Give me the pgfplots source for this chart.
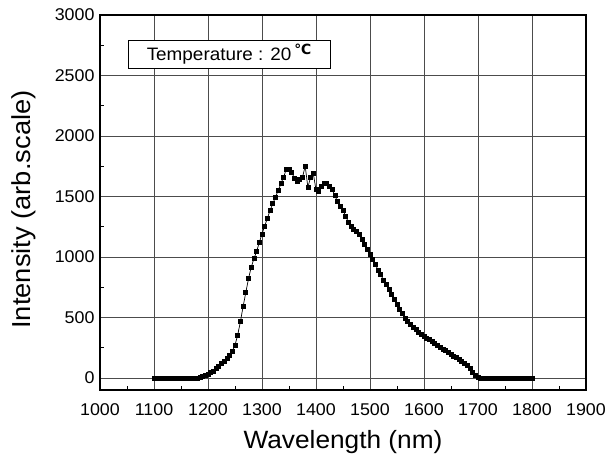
\documentclass[border=0pt]{standalone}
\usepackage{pgfplots}
\pgfplotsset{compat=1.18}
\usepackage{fontspec}
\setmainfont[FakeStretch=1.05]{Liberation Sans}
\newfontfamily\symfont{DejaVu Sans}

\pgfplotstableread{
lambda I
1100 0
1105 0
1110 0
1115 0
1120 0
1125 0
1130 0
1135 0
1140 0
1145 0
1150 0
1155 0
1160 0
1165 0
1170 0
1175 0
1180 0
1185 5
1190 12
1195 20
1200 30
1205 42
1210 58
1215 75
1220 98
1225 120
1230 140
1235 162
1240 190
1245 220
1250 270
1255 355
1260 465
1265 590
1270 705
1275 820
1280 915
1285 985
1290 1045
1295 1120
1300 1190
1305 1255
1310 1320
1315 1385
1320 1440
1325 1495
1330 1550
1335 1605
1340 1660
1345 1725
1350 1720
1355 1700
1360 1650
1365 1625
1370 1645
1375 1660
1380 1750
1385 1575
1390 1660
1395 1690
1400 1555
1405 1545
1410 1580
1415 1605
1420 1605
1425 1585
1430 1555
1435 1505
1440 1460
1445 1420
1450 1385
1455 1335
1460 1290
1465 1255
1470 1232
1475 1212
1480 1185
1485 1145
1490 1102
1495 1060
1500 1020
1505 977
1510 935
1515 893
1520 852
1525 810
1530 770
1535 730
1540 690
1545 650
1550 610
1555 570
1560 530
1565 495
1570 465
1575 440
1580 418
1585 398
1590 380
1595 362
1600 345
1605 330
1610 315
1615 300
1620 285
1625 270
1630 255
1635 240
1640 225
1645 210
1650 195
1655 182
1660 168
1665 155
1670 140
1675 122
1680 100
1685 75
1690 48
1695 25
1700 8
1705 0
1710 0
1715 0
1720 0
1725 0
1730 0
1735 0
1740 0
1745 0
1750 0
1755 0
1760 0
1765 0
1770 0
1775 0
1780 0
1785 0
1790 0
1795 0
1800 0
}\spectrum

\begin{document}
\begin{tikzpicture}
\path[use as bounding box] (0,0) rectangle (608pt,457pt);
\begin{axis}[
    at={(100pt,67pt)}, anchor=south west,
    width=486pt, height=375pt, scale only axis,
    xmin=1000, xmax=1900,
    ymin=-100, ymax=3000,
    xtick={1000,1100,...,1900},
    ytick={0,500,...,3000},
    minor x tick num=1, minor y tick num=1,
    xtick pos=bottom, ytick pos=left,
    tick align=inside,
    major tick length=0pt, minor tick length=4pt,
    grid=major,
    major grid style={black!70, line width=0.5pt},
    axis line style={black, line width=1.1pt},
    every tick/.style={black, line width=0.8pt},
    /pgf/number format/assume math mode=true,
    /pgf/number format/1000 sep={},
    tick label style={font=\fontsize{17}{17}\selectfont},
    xticklabel style={yshift=-10pt},
    yticklabel style={xshift=-2pt},
    xlabel={Wavelength (nm)},
    ylabel={Intensity (arb.scale)},
    xlabel style={font=\fontsize{25}{25}\selectfont, at={(axis description cs:0.5,0)}, anchor=base, yshift=-59pt},
    ylabel style={font=\fontsize{26}{26}\selectfont, at={(axis description cs:0,0.5)}, anchor=base, yshift=69pt, xshift=-7pt},
]
\addplot[black, line width=0.7pt, mark=square*, mark size=2pt] table[x=lambda, y=I] {\spectrum};
\node[draw=black, line width=0.8pt, fill=white, minimum width=202pt, minimum height=28pt, inner sep=0pt,
      font=\fontsize{18}{18}\selectfont]
  at (axis cs:1239,2675) {Temperature : 20\,\raisebox{0.3em}{\symfont\bfseries\fontsize{14}{14}\selectfont ℃}};
\end{axis}
\end{tikzpicture}
\end{document}
